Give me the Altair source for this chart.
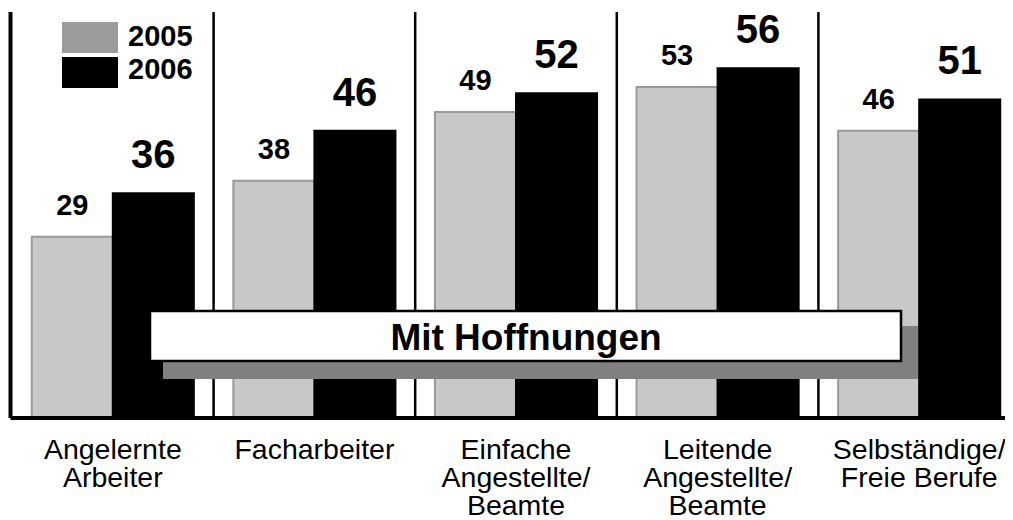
import altair as alt
import pandas as pd

categories = [
    "Angelernte\nArbeiter",
    "Facharbeiter",
    "Einfache\nAngestellte/\nBeamte",
    "Leitende\nAngestellte/\nBeamte",
    "Selbständige/\nFreie Berufe",
]
years = ["2005", "2006"]
values_2005 = [29, 38, 49, 53, 46]
values_2006 = [36, 46, 52, 56, 51]
banner_text = "Mit Hoffnungen"

FONT = "Liberation Sans"
W, H = 993, 406
XRANGE = 1008
YMAX = 65
N = len(categories)
BAR_W = 0.402


def px2x(px):
    return -0.5 + px / XRANGE * N


def px2y(py):
    return (H - py) / H * YMAX


rows = []
for i, (c, a, b) in enumerate(zip(categories, values_2005, values_2006)):
    rows.append({"cat": c, "year": years[0], "value": a, "x0": i - BAR_W, "x1": i, "xc": i - BAR_W / 2, "y0": 0})
    rows.append({"cat": c, "year": years[1], "value": b, "x0": i, "x1": i + BAR_W, "xc": i + BAR_W / 2, "y0": 0})
df = pd.DataFrame(rows)
cat_df = pd.DataFrame({"cat": categories, "xc": list(range(N)), "y0": [0] * N})
sep_df = pd.DataFrame({"xs": [i - 0.5 for i in range(1, N)], "y0": [0] * (N - 1), "y1": [YMAX] * (N - 1)})
axis_df = pd.DataFrame({"xa": [px2x(-1.5)], "xb": [px2x(1010)], "y0": [0], "y1": [YMAX]})

# decorations: legend and banner (pixel layout converted to data units)
leg_rects = pd.DataFrame({
    "year": years,
    "rx0": [px2x(50), px2x(50)], "rx1": [px2x(106), px2x(106)],
    "ry0": [px2y(10), px2y(45)], "ry1": [px2y(41), px2y(76)],
    "tx": [px2x(116), px2x(116)], "ty": [px2y(34), px2y(67)],
})
banner = pd.DataFrame({
    "label": [banner_text],
    "sx0": [px2x(151)], "sx1": [px2x(906)], "sy0": [px2y(314)], "sy1": [px2y(367)],
    "bx0": [px2x(138)], "bx1": [px2x(889)], "by0": [px2y(299)], "by1": [px2y(349)],
    "tx": [px2x(514)], "ty": [px2y(338)],
})

xscale = alt.Scale(domain=[-0.5, N - 0.5], range=[0, XRANGE], nice=False, zero=False)
yscale = alt.Scale(domain=[0, YMAX], nice=False, zero=True)


def X(f):
    return alt.X(f, type="quantitative", scale=xscale, axis=None)


def Y(f):
    return alt.Y(f, type="quantitative", scale=yscale, axis=None)


bars = alt.Chart(df).mark_rect(strokeWidth=2).encode(
    x=X("x0"), x2="x1", y=Y("value"), y2="y0",
    color=alt.Color("year:N", scale=alt.Scale(domain=years, range=["#c8c8c8", "#000000"]), legend=None),
    stroke=alt.Stroke("year:N", scale=alt.Scale(domain=years, range=["#999999", "#000000"]), legend=None),
)

seps = alt.Chart(sep_df).mark_rule(color="black", strokeWidth=2.5).encode(
    x=X("xs"), y=Y("y0"), y2="y1"
)
left_axis = alt.Chart(axis_df).mark_rule(color="black", strokeWidth=4).encode(
    x=X("xa"), y=Y("y0"), y2="y1"
)
base_axis = alt.Chart(axis_df).mark_rule(color="black", strokeWidth=4).encode(
    x=X("xa"), x2="xb", y=Y("y0")
)

lab05 = alt.Chart(df).transform_filter(alt.datum.year == years[0]).mark_text(
    font=FONT, fontSize=29, fontWeight="bold", dy=-22, baseline="alphabetic", color="black"
).encode(x=X("xc"), y=Y("value"), text="value:Q")

lab06 = alt.Chart(df).transform_filter(alt.datum.year == years[1]).mark_text(
    font=FONT, fontSize=40, fontWeight="bold", dy=-25, baseline="alphabetic", color="black"
).encode(x=X("xc"), y=Y("value"), text="value:Q")

cat_labels = alt.Chart(cat_df).mark_text(
    font=FONT, fontSize=28.5, baseline="alphabetic", lineBreak="\n", lineHeight=27.8,
    dy=41, color="black"
).encode(x=X("xc"), y=Y("y0"), text="cat:N")

leg_r = alt.Chart(leg_rects).mark_rect().encode(
    x=X("rx0"), x2="rx1", y=Y("ry0"), y2="ry1",
    color=alt.Color("year:N", scale=alt.Scale(domain=years, range=["#9c9c9c", "#000000"]), legend=None),
)
leg_t = alt.Chart(leg_rects).mark_text(
    font=FONT, fontSize=29, fontWeight="bold", align="left", baseline="alphabetic", color="black"
).encode(x=X("tx"), y=Y("ty"), text="year:N")

shadow = alt.Chart(banner).mark_rect(color="#808080").encode(
    x=X("sx0"), x2="sx1", y=Y("sy0"), y2="sy1"
)
box = alt.Chart(banner).mark_rect(fill="white", stroke="black", strokeWidth=2.5).encode(
    x=X("bx0"), x2="bx1", y=Y("by0"), y2="by1"
)
btext = alt.Chart(banner).mark_text(
    font=FONT, fontSize=37, fontWeight="bold", baseline="alphabetic", color="black"
).encode(x=X("tx"), y=Y("ty"), text="label:N")

chart = alt.layer(
    bars, seps, left_axis, base_axis, lab05, lab06, cat_labels,
    leg_r, leg_t, shadow, box, btext
).properties(
    width=W, height=H,
    padding={"left": 4, "top": 4, "right": 0, "bottom": 100},
    autosize=alt.AutoSizeParams(type="none"),
).resolve_scale(color="independent").configure_view(stroke=None)

chart.save("out.html", embed_options={"renderer": "svg", "actions": False})
